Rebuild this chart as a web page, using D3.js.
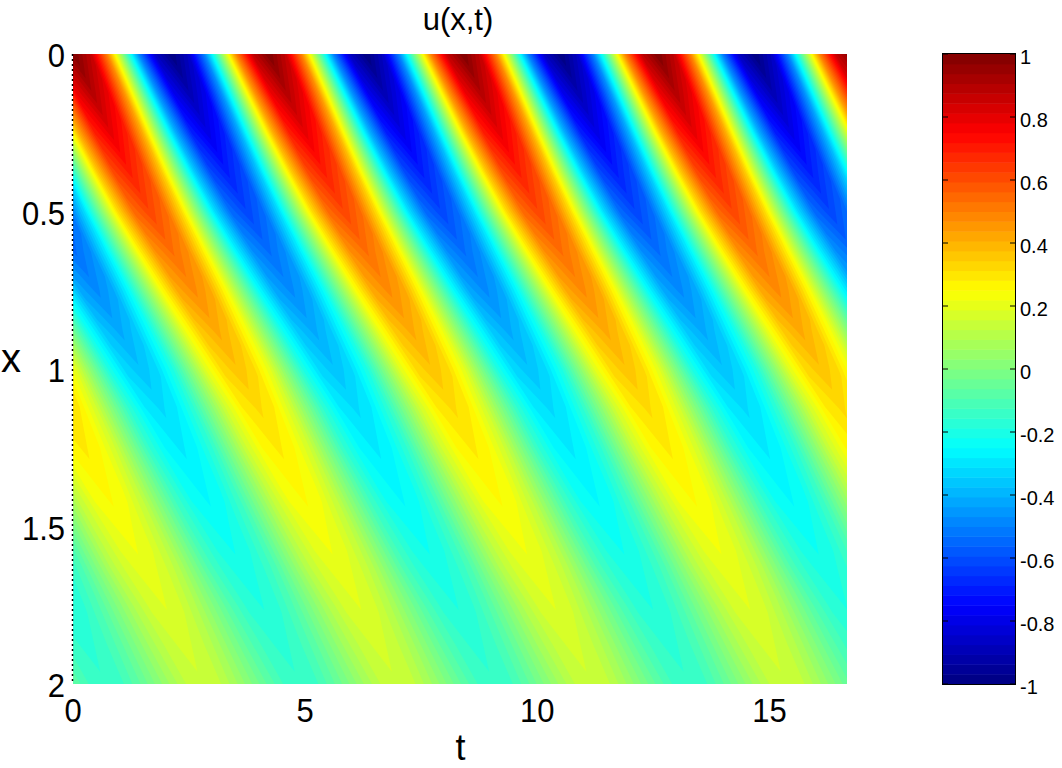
<!DOCTYPE html>
<html><head><meta charset="utf-8">
<script src="https://cdn.jsdelivr.net/npm/d3@7/dist/d3.min.js"></script>
<style>html,body{margin:0;padding:0;background:#fff}svg{display:block}text{font-family:"Liberation Sans",Arial,sans-serif;fill:#000}</style>
</head><body><svg id="c" width="1062" height="768"></svg>
<script>
const title = "u(x,t)";
const xLabel = "t";
const yLabel = "x";
const tTicks = [0, 5, 10, 15];
const xTicks = [0, 0.5, 1, 1.5, 2];
const cbTicks = [1, 0.8, 0.6, 0.4, 0.2, 0, -0.2, -0.4, -0.6, -0.8, -1];
const tMax = 16.67, xMax = 2;
const xStep = 0.125;          // spacing of the rows in x
const tStep = 0.349;          // spacing of the samples in t along a row
const ridgeCol = 21;          // column that lies on a crest
// t at which that crest crosses each row (the samples follow the slanted stripes)
const ridgeT = [0.03,0.42,0.81,1.22,1.65,2.12,2.6,3.08,3.55,4.0,4.42,4.85,5.28,5.72,6.16,6.58,7.0];
// u(x,t) in hundredths, one row per x
const uRows = [
[0,-50,-87,-100,-87,-50,0,50,87,100,87,50,0,-50,-87,-100,-87,-50,0,50,87,100,87,50,0,-50,-87,-100,-87,-50,0,50,87,100,87,50,0,-50,-87,-100,-87,-50,0,50,87,100,87,50,0,-50,-87,-100,-87,-50,0,50,87,100,87,50,0,-50,-87,-100,-87,-50,0,50,87,100],
[0,-45,-78,-90,-78,-45,0,45,78,90,78,45,0,-45,-78,-90,-78,-45,0,45,78,90,78,45,0,-45,-78,-90,-78,-45,0,45,78,90,78,45,0,-45,-78,-90,-78,-45,0,45,78,90,78,45,0,-45,-78,-90,-78,-45,0,45,78,90,78,45,0,-45,-78,-90,-78,-45,0,45,78,90],
[0,-40,-69,-80,-69,-40,0,40,69,80,69,40,0,-40,-69,-80,-69,-40,0,40,69,80,69,40,0,-40,-69,-80,-69,-40,0,40,69,80,69,40,0,-40,-69,-80,-69,-40,0,40,69,80,69,40,0,-40,-69,-80,-69,-40,0,40,69,80,69,40,0,-40,-69,-80,-69,-40,0,40,69,80],
[0,-35,-61,-70,-61,-35,0,35,61,70,61,35,0,-35,-61,-70,-61,-35,0,35,61,70,61,35,0,-35,-61,-70,-61,-35,0,35,61,70,61,35,0,-35,-61,-70,-61,-35,0,35,61,70,61,35,0,-35,-61,-70,-61,-35,0,35,61,70,61,35,0,-35,-61,-70,-61,-35,0,35,61,70],
[0,-31,-54,-62,-54,-31,0,31,54,62,54,31,0,-31,-54,-62,-54,-31,0,31,54,62,54,31,0,-31,-54,-62,-54,-31,0,31,54,62,54,31,0,-31,-54,-62,-54,-31,0,31,54,62,54,31,0,-31,-54,-62,-54,-31,0,31,54,62,54,31,0,-31,-54,-62,-54,-31,0,31,54,62],
[0,-27,-47,-54,-47,-27,0,27,47,54,47,27,0,-27,-47,-54,-47,-27,0,27,47,54,47,27,0,-27,-47,-54,-47,-27,0,27,47,54,47,27,0,-27,-47,-54,-47,-27,0,27,47,54,47,27,0,-27,-47,-54,-47,-27,0,27,47,54,47,27,0,-27,-47,-54,-47,-27,0,27,47,54],
[0,-24,-42,-48,-42,-24,0,24,42,48,42,24,0,-24,-42,-48,-42,-24,0,24,42,48,42,24,0,-24,-42,-48,-42,-24,0,24,42,48,42,24,0,-24,-42,-48,-42,-24,0,24,42,48,42,24,0,-24,-42,-48,-42,-24,0,24,42,48,42,24,0,-24,-42,-48,-42,-24,0,24,42,48],
[0,-21,-36,-42,-36,-21,0,21,36,42,36,21,0,-21,-36,-42,-36,-21,0,21,36,42,36,21,0,-21,-36,-42,-36,-21,0,21,36,42,36,21,0,-21,-36,-42,-36,-21,0,21,36,42,36,21,0,-21,-36,-42,-36,-21,0,21,36,42,36,21,0,-21,-36,-42,-36,-21,0,21,36,42],
[0,-19,-32,-37,-32,-19,0,19,32,37,32,19,0,-19,-32,-37,-32,-19,0,19,32,37,32,19,0,-19,-32,-37,-32,-19,0,19,32,37,32,19,0,-19,-32,-37,-32,-19,0,19,32,37,32,19,0,-19,-32,-37,-32,-19,0,19,32,37,32,19,0,-19,-32,-37,-32,-19,0,19,32,37],
[0,-16,-28,-32,-28,-16,0,16,28,32,28,16,0,-16,-28,-32,-28,-16,0,16,28,32,28,16,0,-16,-28,-32,-28,-16,0,16,28,32,28,16,0,-16,-28,-32,-28,-16,0,16,28,32,28,16,0,-16,-28,-32,-28,-16,0,16,28,32,28,16,0,-16,-28,-32,-28,-16,0,16,28,32],
[0,-15,-25,-29,-25,-15,0,15,25,29,25,15,0,-15,-25,-29,-25,-15,0,15,25,29,25,15,0,-15,-25,-29,-25,-15,0,15,25,29,25,15,0,-15,-25,-29,-25,-15,0,15,25,29,25,15,0,-15,-25,-29,-25,-15,0,15,25,29,25,15,0,-15,-25,-29,-25,-15,0,15,25,29],
[0,-13,-23,-26,-23,-13,0,13,23,26,23,13,0,-13,-23,-26,-23,-13,0,13,23,26,23,13,0,-13,-23,-26,-23,-13,0,13,23,26,23,13,0,-13,-23,-26,-23,-13,0,13,23,26,23,13,0,-13,-23,-26,-23,-13,0,13,23,26,23,13,0,-13,-23,-26,-23,-13,0,13,23,26],
[0,-12,-20,-24,-20,-12,0,12,20,24,20,12,0,-12,-20,-24,-20,-12,0,12,20,24,20,12,0,-12,-20,-24,-20,-12,0,12,20,24,20,12,0,-12,-20,-24,-20,-12,0,12,20,24,20,12,0,-12,-20,-24,-20,-12,0,12,20,24,20,12,0,-12,-20,-24,-20,-12,0,12,20,24],
[0,-11,-18,-21,-18,-11,0,11,18,21,18,11,0,-11,-18,-21,-18,-11,0,11,18,21,18,11,0,-11,-18,-21,-18,-11,0,11,18,21,18,11,0,-11,-18,-21,-18,-11,0,11,18,21,18,11,0,-11,-18,-21,-18,-11,0,11,18,21,18,11,0,-11,-18,-21,-18,-11,0,11,18,21],
[0,-9,-16,-19,-16,-9,0,9,16,19,16,9,0,-9,-16,-19,-16,-9,0,9,16,19,16,9,0,-9,-16,-19,-16,-9,0,9,16,19,16,9,0,-9,-16,-19,-16,-9,0,9,16,19,16,9,0,-9,-16,-19,-16,-9,0,9,16,19,16,9,0,-9,-16,-19,-16,-9,0,9,16,19],
[0,-8,-14,-17,-14,-8,0,8,14,17,14,8,0,-8,-14,-17,-14,-8,0,8,14,17,14,8,0,-8,-14,-17,-14,-8,0,8,14,17,14,8,0,-8,-14,-17,-14,-8,0,8,14,17,14,8,0,-8,-14,-17,-14,-8,0,8,14,17,14,8,0,-8,-14,-17,-14,-8,0,8,14,17],
[0,-7,-13,-15,-13,-7,0,7,13,15,13,7,0,-7,-13,-15,-13,-7,0,7,13,15,13,7,0,-7,-13,-15,-13,-7,0,7,13,15,13,7,0,-7,-13,-15,-13,-7,0,7,13,15,13,7,0,-7,-13,-15,-13,-7,0,7,13,15,13,7,0,-7,-13,-15,-13,-7,0,7,13,15]
];

const plot = {l:73, r:847, t:54, b:684};
const bar = {l:943, r:1015, t:54, b:684};
const svg = d3.select("#c");
const xS = d3.scaleLinear().domain([0, tMax]).range([plot.l, plot.r]);
const yS = d3.scaleLinear().domain([0, xMax]).range([plot.t, plot.b]);
const cS = d3.scaleLinear().domain([-1, 1]).range([bar.b, bar.t]);
const ridgeS = d3.scaleLinear().domain(ridgeT.map((d,i)=>i)).range(ridgeT).clamp(true);

// MATLAB jet, 64 levels
function jet(i){
  const f=(i+0.5)/64;
  const c=v=>Math.round(255*Math.max(0,Math.min(1,v)));
  return d3.rgb(c(1.5-Math.abs(4*f-3)),c(1.5-Math.abs(4*f-2)),c(1.5-Math.abs(4*f-1)));
}
const levels = d3.range(64);
const lv = i=>-1+i*2/64;

const nCols = uRows[0].length, nRows = uRows.length;
const flat = uRows.flat().map(v=>v/100);
const contours = d3.contours().size([nCols,nRows]).smooth(true)
  .thresholds(levels.map(lv))(flat);
const proj = d3.geoTransform({point(px,py){
  const q = py-0.5;
  this.stream.point(xS(ridgeS(q)+(px-0.5-ridgeCol)*tStep), yS(q*xStep));
}});
const path = d3.geoPath(proj);

const defs = svg.append("defs");
defs.append("clipPath").attr("id","pc").append("rect")
  .attr("x",plot.l).attr("y",plot.t).attr("width",plot.r-plot.l).attr("height",plot.b-plot.t);

const g = svg.append("g").attr("clip-path","url(#pc)");
g.selectAll("path.band").data(contours).join("path").attr("class","band")
 .attr("d",path).attr("fill",(d,i)=>jet(i));

// dotted left edge
svg.append("line").attr("x1",plot.l-0.5).attr("x2",plot.l-0.5).attr("y1",plot.t).attr("y2",plot.b)
 .attr("stroke","#000").attr("stroke-width",1.5).attr("stroke-dasharray","2 3");

// tick labels
svg.selectAll("text.tx").data(tTicks).join("text").attr("class","tx")
 .attr("transform",d=>`translate(${xS(d)},722) scale(1,1.1)`).attr("text-anchor","middle").attr("font-size",31).text(d=>d);
svg.selectAll("text.ty").data(xTicks).join("text").attr("class","ty")
 .attr("transform",d=>`translate(65,${yS(d)+13}) scale(1,1.1)`).attr("text-anchor","end").attr("font-size",31).text(d=>d);

svg.append("text").attr("x",458).attr("y",30).attr("text-anchor","middle").attr("font-size",31).text(title);
svg.append("text").attr("x",460.5).attr("y",760).attr("text-anchor","middle").attr("font-size",36).text(xLabel);
svg.append("text").attr("x",11).attr("y",372).attr("text-anchor","middle").attr("font-size",40).text(yLabel);

// colour bar
svg.selectAll("rect.cb").data(levels).join("rect").attr("class","cb")
 .attr("x",bar.l).attr("width",bar.r-bar.l)
 .attr("y",i=>cS(lv(i+1))).attr("height",i=>cS(lv(i))-cS(lv(i+1))+0.5)
 .attr("fill",i=>jet(i));
svg.append("rect").attr("x",bar.l-0.5).attr("y",bar.t-0.5).attr("width",bar.r-bar.l+1).attr("height",bar.b-bar.t+1)
 .attr("fill","none").attr("stroke","#000");
const tk = svg.append("g");
cbTicks.forEach(v=>{
  [[bar.l,bar.l+5],[bar.r-5,bar.r]].forEach(([a,b])=>{
    tk.append("line").attr("x1",a).attr("x2",b).attr("y1",cS(v)).attr("y2",cS(v)).attr("stroke","#000");
  });
});
svg.selectAll("text.tc").data(cbTicks).join("text").attr("class","tc")
 .attr("x",1020).attr("y",d=>cS(d)+10).attr("font-size",20).text(d=>d);
</script></body></html>
